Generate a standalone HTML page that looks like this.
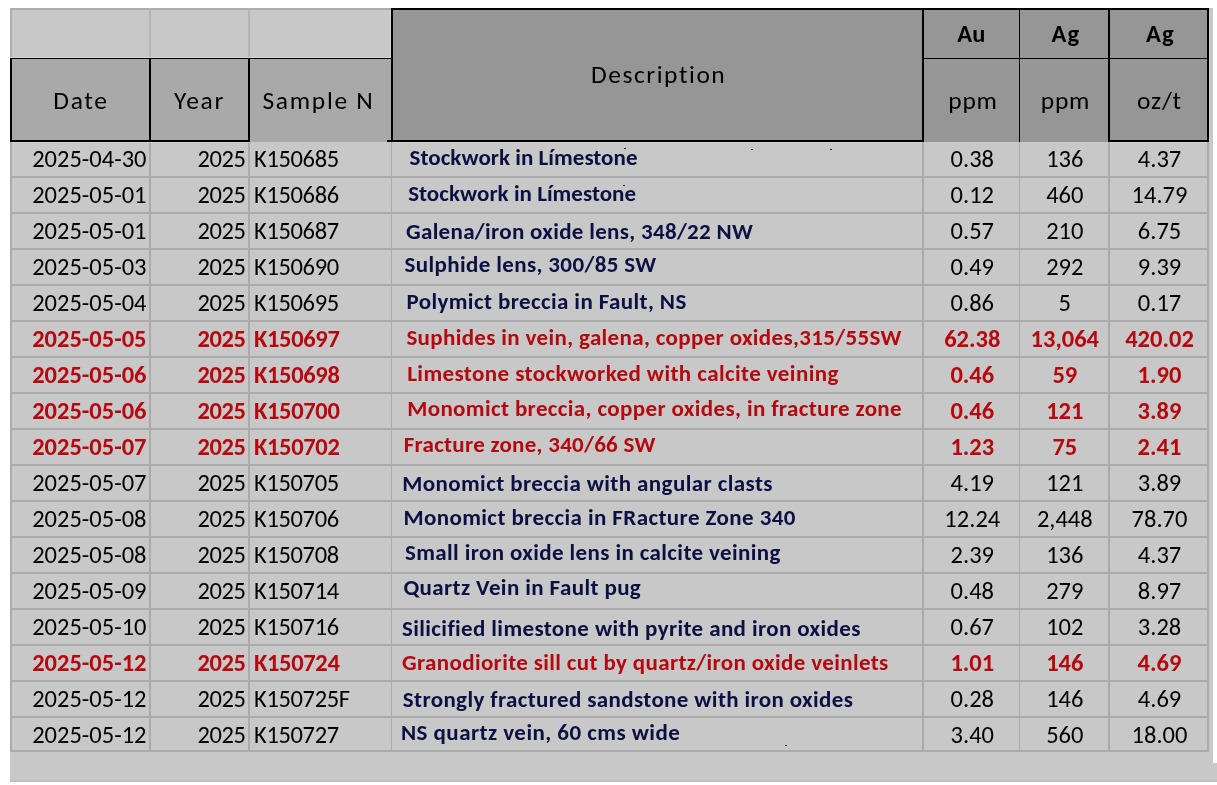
<!DOCTYPE html>
<html><head><meta charset="utf-8"><style>
html,body{margin:0;padding:0;background:#fff;}
body{width:1217px;height:785px;position:relative;overflow:hidden;font-family:"Carlito","Liberation Sans",sans-serif;}
body>div{position:absolute;}
.t{position:absolute;white-space:nowrap;line-height:1;display:block;overflow:visible;}
</style></head><body>
<div style="left:10px;top:8px;width:1203px;height:774px;background:#c8c8c8;"></div>
<div style="left:1213px;top:763px;width:4px;height:19px;background:#c8c8c8;"></div>
<div style="left:10px;top:780px;width:1207px;height:2px;background:#bfbfbf;"></div>
<div style="left:10px;top:8px;width:381px;height:2px;background:#adadad;"></div>
<div style="left:10px;top:8px;width:2px;height:50px;background:#adadad;"></div>
<div style="left:149px;top:8px;width:2px;height:50px;background:#b4b4b4;"></div>
<div style="left:248px;top:8px;width:2px;height:50px;background:#b4b4b4;"></div>
<div style="left:10px;top:176px;width:1199px;height:2px;background:#ababab;"></div>
<div style="left:10px;top:212px;width:1199px;height:2px;background:#ababab;"></div>
<div style="left:10px;top:248px;width:1199px;height:2px;background:#ababab;"></div>
<div style="left:10px;top:284px;width:1199px;height:2px;background:#ababab;"></div>
<div style="left:10px;top:320px;width:1199px;height:2px;background:#ababab;"></div>
<div style="left:10px;top:356px;width:1199px;height:2px;background:#ababab;"></div>
<div style="left:10px;top:392px;width:1199px;height:2px;background:#ababab;"></div>
<div style="left:10px;top:428px;width:1199px;height:2px;background:#ababab;"></div>
<div style="left:10px;top:464px;width:1199px;height:2px;background:#ababab;"></div>
<div style="left:10px;top:500px;width:1199px;height:2px;background:#ababab;"></div>
<div style="left:10px;top:536px;width:1199px;height:2px;background:#ababab;"></div>
<div style="left:10px;top:572px;width:1199px;height:2px;background:#ababab;"></div>
<div style="left:10px;top:608px;width:1199px;height:2px;background:#ababab;"></div>
<div style="left:10px;top:644px;width:1199px;height:2px;background:#ababab;"></div>
<div style="left:10px;top:680px;width:1199px;height:2px;background:#ababab;"></div>
<div style="left:10px;top:716px;width:1199px;height:2px;background:#ababab;"></div>
<div style="left:10px;top:750px;width:1199px;height:2px;background:#ababab;"></div>
<div style="left:10px;top:142px;width:2px;height:610px;background:#ababab;"></div>
<div style="left:149px;top:142px;width:2px;height:610px;background:#ababab;"></div>
<div style="left:248px;top:142px;width:2px;height:610px;background:#ababab;"></div>
<div style="left:391px;top:142px;width:1px;height:610px;background:#ababab;"></div>
<div style="left:922px;top:142px;width:2px;height:610px;background:#ababab;"></div>
<div style="left:1019px;top:142px;width:1px;height:610px;background:#ababab;"></div>
<div style="left:1108px;top:142px;width:2px;height:610px;background:#ababab;"></div>
<div style="left:1207px;top:142px;width:2px;height:610px;background:#ababab;"></div>
<div style="left:10px;top:58px;width:381px;height:84px;background:#a9a9a9;"></div>
<div style="left:10px;top:58px;width:381px;height:1px;background:#000;"></div>
<div style="left:10px;top:58px;width:2px;height:84px;background:#000;"></div>
<div style="left:149px;top:58px;width:2px;height:84px;background:#000;"></div>
<div style="left:248px;top:58px;width:2px;height:84px;background:#000;"></div>
<div style="left:10px;top:140px;width:240px;height:2px;background:#000;"></div>
<div style="left:391px;top:8px;width:818px;height:134px;background:#969696;"></div>
<div style="left:391px;top:8px;width:818px;height:2px;background:#000;"></div>
<div style="left:391px;top:8px;width:2px;height:134px;background:#000;"></div>
<div style="left:387px;top:140px;width:537px;height:2px;background:#000;"></div>
<div style="left:922px;top:8px;width:2px;height:134px;background:#000;"></div>
<div style="left:922px;top:58px;width:287px;height:1px;background:#000;"></div>
<div style="left:1019px;top:8px;width:1px;height:134px;background:#000;"></div>
<div style="left:1108px;top:8px;width:2px;height:134px;background:#000;"></div>
<div style="left:1207px;top:8px;width:2px;height:134px;background:#000;"></div>
<div style="left:1108px;top:140px;width:101px;height:2px;background:#000;"></div>
<div style="left:751px;top:149px;width:2px;height:1px;background:#1a1a2a;"></div>
<div style="left:830px;top:149px;width:2px;height:1px;background:#1a1a2a;"></div>
<div style="left:624px;top:148px;width:2px;height:1px;background:#1a1a3a;"></div>
<div style="left:623px;top:185px;width:2px;height:1px;background:#1a1a3a;"></div>
<div style="left:785px;top:745px;width:2px;height:1px;background:#2a2a2a;"></div>
<div style="left:10px;top:57px;width:381px;height:1px;background:#d4d4d4;"></div>
<div style="left:390px;top:10px;width:1px;height:48px;background:#d4d4d4;"></div>
<div style="left:12px;top:142px;width:237px;height:1px;background:#d2d2d2;"></div>
<div style="left:393px;top:142px;width:529px;height:1px;background:#d4d4d4;"></div>
<div style="left:1110px;top:142px;width:97px;height:1px;background:#d4d4d4;"></div>
<div style="left:1209px;top:10px;width:1px;height:131px;background:#d2d2d2;"></div>
<span class="t" style="left:12.5px;top:88.13px;width:137px;font-size:25.5px;font-weight:400;color:#000;text-align:center;letter-spacing:1.7px;">Date</span>
<span class="t" style="left:151px;top:88.13px;width:97px;font-size:25.5px;font-weight:400;color:#000;text-align:center;letter-spacing:1.7px;">Year</span>
<span class="t" style="left:248px;top:88.13px;width:141px;font-size:25.5px;font-weight:400;color:#000;text-align:center;letter-spacing:1.7px;">Sample N</span>
<span class="t" style="left:394.2px;top:61.93px;width:529px;font-size:25.5px;font-weight:400;color:#000;text-align:center;letter-spacing:1.53px;">Description</span>
<span class="t" style="left:924px;top:21.57px;width:95px;font-size:24.5px;font-weight:700;color:#000;text-align:center;letter-spacing:0.3px;">Au</span>
<span class="t" style="left:1022px;top:21.57px;width:88px;font-size:24.5px;font-weight:700;color:#000;text-align:center;letter-spacing:1.3px;">Ag</span>
<span class="t" style="left:1112px;top:21.57px;width:97px;font-size:24.5px;font-weight:700;color:#000;text-align:center;letter-spacing:1.3px;">Ag</span>
<span class="t" style="left:925.5px;top:87.73px;width:95px;font-size:25.5px;font-weight:400;color:#000;text-align:center;letter-spacing:0.8px;">ppm</span>
<span class="t" style="left:1021.5px;top:87.73px;width:88px;font-size:25.5px;font-weight:400;color:#000;text-align:center;letter-spacing:0.8px;">ppm</span>
<span class="t" style="left:1111px;top:87.73px;width:97px;font-size:25.5px;font-weight:400;color:#000;text-align:center;letter-spacing:0.8px;">oz/t</span>
<span class="t" style="left:12px;top:147.37px;width:134.5px;font-size:24.5px;font-weight:400;color:#000;text-align:right;letter-spacing:0px;">2025-04-30</span>
<span class="t" style="left:151px;top:147.37px;width:94.4px;font-size:24.5px;font-weight:400;color:#000;text-align:right;letter-spacing:-0.45px;">2025</span>
<span class="t" style="left:254px;top:147.37px;width:136px;font-size:24.5px;font-weight:400;color:#000;text-align:left;letter-spacing:-0.35px;">K150685</span>
<span class="t" style="left:924.8px;top:147.37px;width:95px;font-size:24.5px;font-weight:400;color:#000;text-align:center;letter-spacing:0px;">0.38</span>
<span class="t" style="left:1020.8px;top:147.37px;width:88px;font-size:24.5px;font-weight:400;color:#000;text-align:center;letter-spacing:0px;">136</span>
<span class="t" style="left:1111px;top:147.37px;width:97px;font-size:24.5px;font-weight:400;color:#000;text-align:center;letter-spacing:0px;">4.37</span>
<span class="t" style="left:409.6px;top:146.03px;width:515px;font-size:23px;font-weight:700;color:#0b1043;text-align:left;letter-spacing:0.033px;">Stockwork in Límestone</span>
<span class="t" style="left:12px;top:183.37px;width:134.5px;font-size:24.5px;font-weight:400;color:#000;text-align:right;letter-spacing:0px;">2025-05-01</span>
<span class="t" style="left:151px;top:183.37px;width:94.4px;font-size:24.5px;font-weight:400;color:#000;text-align:right;letter-spacing:-0.45px;">2025</span>
<span class="t" style="left:254px;top:183.37px;width:136px;font-size:24.5px;font-weight:400;color:#000;text-align:left;letter-spacing:-0.35px;">K150686</span>
<span class="t" style="left:924.8px;top:183.37px;width:95px;font-size:24.5px;font-weight:400;color:#000;text-align:center;letter-spacing:0px;">0.12</span>
<span class="t" style="left:1020.8px;top:183.37px;width:88px;font-size:24.5px;font-weight:400;color:#000;text-align:center;letter-spacing:0px;">460</span>
<span class="t" style="left:1111px;top:183.37px;width:97px;font-size:24.5px;font-weight:400;color:#000;text-align:center;letter-spacing:0px;">14.79</span>
<span class="t" style="left:408.2px;top:182.03px;width:515px;font-size:23px;font-weight:700;color:#0b1043;text-align:left;letter-spacing:0.033px;">Stockwork in Límestone</span>
<span class="t" style="left:12px;top:219.37px;width:134.5px;font-size:24.5px;font-weight:400;color:#000;text-align:right;letter-spacing:0px;">2025-05-01</span>
<span class="t" style="left:151px;top:219.37px;width:94.4px;font-size:24.5px;font-weight:400;color:#000;text-align:right;letter-spacing:-0.45px;">2025</span>
<span class="t" style="left:254px;top:219.37px;width:136px;font-size:24.5px;font-weight:400;color:#000;text-align:left;letter-spacing:-0.35px;">K150687</span>
<span class="t" style="left:924.8px;top:219.37px;width:95px;font-size:24.5px;font-weight:400;color:#000;text-align:center;letter-spacing:0px;">0.57</span>
<span class="t" style="left:1020.8px;top:219.37px;width:88px;font-size:24.5px;font-weight:400;color:#000;text-align:center;letter-spacing:0px;">210</span>
<span class="t" style="left:1111px;top:219.37px;width:97px;font-size:24.5px;font-weight:400;color:#000;text-align:center;letter-spacing:0px;">6.75</span>
<span class="t" style="left:406.0px;top:220.33px;width:515px;font-size:23px;font-weight:700;color:#0b1043;text-align:left;letter-spacing:0.316px;">Galena/iron oxide lens, 348/22 NW</span>
<span class="t" style="left:12px;top:255.37px;width:134.5px;font-size:24.5px;font-weight:400;color:#000;text-align:right;letter-spacing:0px;">2025-05-03</span>
<span class="t" style="left:151px;top:255.37px;width:94.4px;font-size:24.5px;font-weight:400;color:#000;text-align:right;letter-spacing:-0.45px;">2025</span>
<span class="t" style="left:254px;top:255.37px;width:136px;font-size:24.5px;font-weight:400;color:#000;text-align:left;letter-spacing:-0.35px;">K150690</span>
<span class="t" style="left:924.8px;top:255.37px;width:95px;font-size:24.5px;font-weight:400;color:#000;text-align:center;letter-spacing:0px;">0.49</span>
<span class="t" style="left:1020.8px;top:255.37px;width:88px;font-size:24.5px;font-weight:400;color:#000;text-align:center;letter-spacing:0px;">292</span>
<span class="t" style="left:1111px;top:255.37px;width:97px;font-size:24.5px;font-weight:400;color:#000;text-align:center;letter-spacing:0px;">9.39</span>
<span class="t" style="left:404.6px;top:253.13px;width:515px;font-size:23px;font-weight:700;color:#0b1043;text-align:left;letter-spacing:0.37px;">Sulphide lens, 300/85 SW</span>
<span class="t" style="left:12px;top:291.37px;width:134.5px;font-size:24.5px;font-weight:400;color:#000;text-align:right;letter-spacing:0px;">2025-05-04</span>
<span class="t" style="left:151px;top:291.37px;width:94.4px;font-size:24.5px;font-weight:400;color:#000;text-align:right;letter-spacing:-0.45px;">2025</span>
<span class="t" style="left:254px;top:291.37px;width:136px;font-size:24.5px;font-weight:400;color:#000;text-align:left;letter-spacing:-0.35px;">K150695</span>
<span class="t" style="left:924.8px;top:291.37px;width:95px;font-size:24.5px;font-weight:400;color:#000;text-align:center;letter-spacing:0px;">0.86</span>
<span class="t" style="left:1020.8px;top:291.37px;width:88px;font-size:24.5px;font-weight:400;color:#000;text-align:center;letter-spacing:0px;">5</span>
<span class="t" style="left:1111px;top:291.37px;width:97px;font-size:24.5px;font-weight:400;color:#000;text-align:center;letter-spacing:0px;">0.17</span>
<span class="t" style="left:406.4px;top:290.03px;width:515px;font-size:23px;font-weight:700;color:#0b1043;text-align:left;letter-spacing:0.396px;">Polymict breccia in Fault, NS</span>
<span class="t" style="left:12px;top:327.37px;width:134.5px;font-size:24.5px;font-weight:700;color:#b5090f;text-align:right;letter-spacing:0px;">2025-05-05</span>
<span class="t" style="left:151px;top:327.37px;width:94.4px;font-size:24.5px;font-weight:700;color:#b5090f;text-align:right;letter-spacing:-0.45px;">2025</span>
<span class="t" style="left:254px;top:327.37px;width:136px;font-size:24.5px;font-weight:700;color:#b5090f;text-align:left;letter-spacing:-0.35px;">K150697</span>
<span class="t" style="left:924.8px;top:327.37px;width:95px;font-size:24.5px;font-weight:700;color:#b5090f;text-align:center;letter-spacing:0px;">62.38</span>
<span class="t" style="left:1020.8px;top:327.37px;width:88px;font-size:24.5px;font-weight:700;color:#b5090f;text-align:center;letter-spacing:0px;">13,064</span>
<span class="t" style="left:1111px;top:327.37px;width:97px;font-size:24.5px;font-weight:700;color:#b5090f;text-align:center;letter-spacing:0px;">420.02</span>
<span class="t" style="left:406.4px;top:326.13px;width:515px;font-size:23px;font-weight:700;color:#b5090f;text-align:left;letter-spacing:0.347px;">Suphides in vein, galena, copper oxides,315/55SW</span>
<span class="t" style="left:12px;top:363.37px;width:134.5px;font-size:24.5px;font-weight:700;color:#b5090f;text-align:right;letter-spacing:0px;">2025-05-06</span>
<span class="t" style="left:151px;top:363.37px;width:94.4px;font-size:24.5px;font-weight:700;color:#b5090f;text-align:right;letter-spacing:-0.45px;">2025</span>
<span class="t" style="left:254px;top:363.37px;width:136px;font-size:24.5px;font-weight:700;color:#b5090f;text-align:left;letter-spacing:-0.35px;">K150698</span>
<span class="t" style="left:924.8px;top:363.37px;width:95px;font-size:24.5px;font-weight:700;color:#b5090f;text-align:center;letter-spacing:0px;">0.46</span>
<span class="t" style="left:1020.8px;top:363.37px;width:88px;font-size:24.5px;font-weight:700;color:#b5090f;text-align:center;letter-spacing:0px;">59</span>
<span class="t" style="left:1111px;top:363.37px;width:97px;font-size:24.5px;font-weight:700;color:#b5090f;text-align:center;letter-spacing:0px;">1.90</span>
<span class="t" style="left:407.2px;top:361.93px;width:515px;font-size:23px;font-weight:700;color:#b5090f;text-align:left;letter-spacing:0.415px;">Limestone stockworked with calcite veining</span>
<span class="t" style="left:12px;top:399.37px;width:134.5px;font-size:24.5px;font-weight:700;color:#b5090f;text-align:right;letter-spacing:0px;">2025-05-06</span>
<span class="t" style="left:151px;top:399.37px;width:94.4px;font-size:24.5px;font-weight:700;color:#b5090f;text-align:right;letter-spacing:-0.45px;">2025</span>
<span class="t" style="left:254px;top:399.37px;width:136px;font-size:24.5px;font-weight:700;color:#b5090f;text-align:left;letter-spacing:-0.35px;">K150700</span>
<span class="t" style="left:924.8px;top:399.37px;width:95px;font-size:24.5px;font-weight:700;color:#b5090f;text-align:center;letter-spacing:0px;">0.46</span>
<span class="t" style="left:1020.8px;top:399.37px;width:88px;font-size:24.5px;font-weight:700;color:#b5090f;text-align:center;letter-spacing:0px;">121</span>
<span class="t" style="left:1111px;top:399.37px;width:97px;font-size:24.5px;font-weight:700;color:#b5090f;text-align:center;letter-spacing:0px;">3.89</span>
<span class="t" style="left:407.2px;top:396.93px;width:515px;font-size:23px;font-weight:700;color:#b5090f;text-align:left;letter-spacing:0.373px;">Monomict breccia, copper oxides, in fracture zone</span>
<span class="t" style="left:12px;top:435.37px;width:134.5px;font-size:24.5px;font-weight:700;color:#b5090f;text-align:right;letter-spacing:0px;">2025-05-07</span>
<span class="t" style="left:151px;top:435.37px;width:94.4px;font-size:24.5px;font-weight:700;color:#b5090f;text-align:right;letter-spacing:-0.45px;">2025</span>
<span class="t" style="left:254px;top:435.37px;width:136px;font-size:24.5px;font-weight:700;color:#b5090f;text-align:left;letter-spacing:-0.35px;">K150702</span>
<span class="t" style="left:924.8px;top:435.37px;width:95px;font-size:24.5px;font-weight:700;color:#b5090f;text-align:center;letter-spacing:0px;">1.23</span>
<span class="t" style="left:1020.8px;top:435.37px;width:88px;font-size:24.5px;font-weight:700;color:#b5090f;text-align:center;letter-spacing:0px;">75</span>
<span class="t" style="left:1111px;top:435.37px;width:97px;font-size:24.5px;font-weight:700;color:#b5090f;text-align:center;letter-spacing:0px;">2.41</span>
<span class="t" style="left:403.8px;top:432.73px;width:515px;font-size:23px;font-weight:700;color:#b5090f;text-align:left;letter-spacing:0.27px;">Fracture zone, 340/66 SW</span>
<span class="t" style="left:12px;top:471.37px;width:134.5px;font-size:24.5px;font-weight:400;color:#000;text-align:right;letter-spacing:0px;">2025-05-07</span>
<span class="t" style="left:151px;top:471.37px;width:94.4px;font-size:24.5px;font-weight:400;color:#000;text-align:right;letter-spacing:-0.45px;">2025</span>
<span class="t" style="left:254px;top:471.37px;width:136px;font-size:24.5px;font-weight:400;color:#000;text-align:left;letter-spacing:-0.35px;">K150705</span>
<span class="t" style="left:924.8px;top:471.37px;width:95px;font-size:24.5px;font-weight:400;color:#000;text-align:center;letter-spacing:0px;">4.19</span>
<span class="t" style="left:1020.8px;top:471.37px;width:88px;font-size:24.5px;font-weight:400;color:#000;text-align:center;letter-spacing:0px;">121</span>
<span class="t" style="left:1111px;top:471.37px;width:97px;font-size:24.5px;font-weight:400;color:#000;text-align:center;letter-spacing:0px;">3.89</span>
<span class="t" style="left:402.2px;top:472.23px;width:515px;font-size:23px;font-weight:700;color:#0b1043;text-align:left;letter-spacing:0.409px;">Monomict breccia with angular clasts</span>
<span class="t" style="left:12px;top:507.37px;width:134.5px;font-size:24.5px;font-weight:400;color:#000;text-align:right;letter-spacing:0px;">2025-05-08</span>
<span class="t" style="left:151px;top:507.37px;width:94.4px;font-size:24.5px;font-weight:400;color:#000;text-align:right;letter-spacing:-0.45px;">2025</span>
<span class="t" style="left:254px;top:507.37px;width:136px;font-size:24.5px;font-weight:400;color:#000;text-align:left;letter-spacing:-0.35px;">K150706</span>
<span class="t" style="left:924.8px;top:507.37px;width:95px;font-size:24.5px;font-weight:400;color:#000;text-align:center;letter-spacing:0px;">12.24</span>
<span class="t" style="left:1020.8px;top:507.37px;width:88px;font-size:24.5px;font-weight:400;color:#000;text-align:center;letter-spacing:0px;">2,448</span>
<span class="t" style="left:1111px;top:507.37px;width:97px;font-size:24.5px;font-weight:400;color:#000;text-align:center;letter-spacing:0px;">78.70</span>
<span class="t" style="left:403.4px;top:506.03px;width:515px;font-size:23px;font-weight:700;color:#0b1043;text-align:left;letter-spacing:0.406px;">Monomict breccia in FRacture Zone 340</span>
<span class="t" style="left:12px;top:543.37px;width:134.5px;font-size:24.5px;font-weight:400;color:#000;text-align:right;letter-spacing:0px;">2025-05-08</span>
<span class="t" style="left:151px;top:543.37px;width:94.4px;font-size:24.5px;font-weight:400;color:#000;text-align:right;letter-spacing:-0.45px;">2025</span>
<span class="t" style="left:254px;top:543.37px;width:136px;font-size:24.5px;font-weight:400;color:#000;text-align:left;letter-spacing:-0.35px;">K150708</span>
<span class="t" style="left:924.8px;top:543.37px;width:95px;font-size:24.5px;font-weight:400;color:#000;text-align:center;letter-spacing:0px;">2.39</span>
<span class="t" style="left:1020.8px;top:543.37px;width:88px;font-size:24.5px;font-weight:400;color:#000;text-align:center;letter-spacing:0px;">136</span>
<span class="t" style="left:1111px;top:543.37px;width:97px;font-size:24.5px;font-weight:400;color:#000;text-align:center;letter-spacing:0px;">4.37</span>
<span class="t" style="left:405.0px;top:540.93px;width:515px;font-size:23px;font-weight:700;color:#0b1043;text-align:left;letter-spacing:0.379px;">Small iron oxide lens in calcite veining</span>
<span class="t" style="left:12px;top:579.37px;width:134.5px;font-size:24.5px;font-weight:400;color:#000;text-align:right;letter-spacing:0px;">2025-05-09</span>
<span class="t" style="left:151px;top:579.37px;width:94.4px;font-size:24.5px;font-weight:400;color:#000;text-align:right;letter-spacing:-0.45px;">2025</span>
<span class="t" style="left:254px;top:579.37px;width:136px;font-size:24.5px;font-weight:400;color:#000;text-align:left;letter-spacing:-0.35px;">K150714</span>
<span class="t" style="left:924.8px;top:579.37px;width:95px;font-size:24.5px;font-weight:400;color:#000;text-align:center;letter-spacing:0px;">0.48</span>
<span class="t" style="left:1020.8px;top:579.37px;width:88px;font-size:24.5px;font-weight:400;color:#000;text-align:center;letter-spacing:0px;">279</span>
<span class="t" style="left:1111px;top:579.37px;width:97px;font-size:24.5px;font-weight:400;color:#000;text-align:center;letter-spacing:0px;">8.97</span>
<span class="t" style="left:403.4px;top:576.43px;width:515px;font-size:23px;font-weight:700;color:#0b1043;text-align:left;letter-spacing:0.391px;">Quartz Vein in Fault pug</span>
<span class="t" style="left:12px;top:615.37px;width:134.5px;font-size:24.5px;font-weight:400;color:#000;text-align:right;letter-spacing:0px;">2025-05-10</span>
<span class="t" style="left:151px;top:615.37px;width:94.4px;font-size:24.5px;font-weight:400;color:#000;text-align:right;letter-spacing:-0.45px;">2025</span>
<span class="t" style="left:254px;top:615.37px;width:136px;font-size:24.5px;font-weight:400;color:#000;text-align:left;letter-spacing:-0.35px;">K150716</span>
<span class="t" style="left:924.8px;top:615.37px;width:95px;font-size:24.5px;font-weight:400;color:#000;text-align:center;letter-spacing:0px;">0.67</span>
<span class="t" style="left:1020.8px;top:615.37px;width:88px;font-size:24.5px;font-weight:400;color:#000;text-align:center;letter-spacing:0px;">102</span>
<span class="t" style="left:1111px;top:615.37px;width:97px;font-size:24.5px;font-weight:400;color:#000;text-align:center;letter-spacing:0px;">3.28</span>
<span class="t" style="left:402.0px;top:616.53px;width:515px;font-size:23px;font-weight:700;color:#0b1043;text-align:left;letter-spacing:0.381px;">Silicified limestone with pyrite and iron oxides</span>
<span class="t" style="left:12px;top:651.37px;width:134.5px;font-size:24.5px;font-weight:700;color:#b5090f;text-align:right;letter-spacing:0px;">2025-05-12</span>
<span class="t" style="left:151px;top:651.37px;width:94.4px;font-size:24.5px;font-weight:700;color:#b5090f;text-align:right;letter-spacing:-0.45px;">2025</span>
<span class="t" style="left:254px;top:651.37px;width:136px;font-size:24.5px;font-weight:700;color:#b5090f;text-align:left;letter-spacing:-0.35px;">K150724</span>
<span class="t" style="left:924.8px;top:651.37px;width:95px;font-size:24.5px;font-weight:700;color:#b5090f;text-align:center;letter-spacing:0px;">1.01</span>
<span class="t" style="left:1020.8px;top:651.37px;width:88px;font-size:24.5px;font-weight:700;color:#b5090f;text-align:center;letter-spacing:0px;">146</span>
<span class="t" style="left:1111px;top:651.37px;width:97px;font-size:24.5px;font-weight:700;color:#b5090f;text-align:center;letter-spacing:0px;">4.69</span>
<span class="t" style="left:402.0px;top:651.33px;width:515px;font-size:23px;font-weight:700;color:#b5090f;text-align:left;letter-spacing:0.36px;">Granodiorite sill cut by quartz/iron oxide veinlets</span>
<span class="t" style="left:12px;top:687.37px;width:134.5px;font-size:24.5px;font-weight:400;color:#000;text-align:right;letter-spacing:0px;">2025-05-12</span>
<span class="t" style="left:151px;top:687.37px;width:94.4px;font-size:24.5px;font-weight:400;color:#000;text-align:right;letter-spacing:-0.45px;">2025</span>
<span class="t" style="left:254px;top:687.37px;width:136px;font-size:24.5px;font-weight:400;color:#000;text-align:left;letter-spacing:-0.35px;">K150725F</span>
<span class="t" style="left:924.8px;top:687.37px;width:95px;font-size:24.5px;font-weight:400;color:#000;text-align:center;letter-spacing:0px;">0.28</span>
<span class="t" style="left:1020.8px;top:687.37px;width:88px;font-size:24.5px;font-weight:400;color:#000;text-align:center;letter-spacing:0px;">146</span>
<span class="t" style="left:1111px;top:687.37px;width:97px;font-size:24.5px;font-weight:400;color:#000;text-align:center;letter-spacing:0px;">4.69</span>
<span class="t" style="left:402.8px;top:687.83px;width:515px;font-size:23px;font-weight:700;color:#0b1043;text-align:left;letter-spacing:0.373px;">Strongly fractured sandstone with iron oxides</span>
<span class="t" style="left:12px;top:723.37px;width:134.5px;font-size:24.5px;font-weight:400;color:#000;text-align:right;letter-spacing:0px;">2025-05-12</span>
<span class="t" style="left:151px;top:723.37px;width:94.4px;font-size:24.5px;font-weight:400;color:#000;text-align:right;letter-spacing:-0.45px;">2025</span>
<span class="t" style="left:254px;top:723.37px;width:136px;font-size:24.5px;font-weight:400;color:#000;text-align:left;letter-spacing:-0.35px;">K150727</span>
<span class="t" style="left:924.8px;top:723.37px;width:95px;font-size:24.5px;font-weight:400;color:#000;text-align:center;letter-spacing:0px;">3.40</span>
<span class="t" style="left:1020.8px;top:723.37px;width:88px;font-size:24.5px;font-weight:400;color:#000;text-align:center;letter-spacing:0px;">560</span>
<span class="t" style="left:1111px;top:723.37px;width:97px;font-size:24.5px;font-weight:400;color:#000;text-align:center;letter-spacing:0px;">18.00</span>
<span class="t" style="left:401.0px;top:721.33px;width:515px;font-size:23px;font-weight:700;color:#0b1043;text-align:left;letter-spacing:0.45px;">NS quartz vein, 60 cms wide</span>
<script>
(function(){
  try {
    var probe=document.createElement('span');
    probe.style.cssText='position:absolute;left:-9999px;top:0;font-size:40px;white-space:nowrap;font-family:monospace';
    probe.textContent='mmmwwwiiilll0123456789';
    document.body.appendChild(probe);
    var w1=probe.getBoundingClientRect().width;
    probe.style.fontFamily='Carlito,monospace';
    var w2=probe.getBoundingClientRect().width;
    document.body.removeChild(probe);
    if (Math.abs(w1-w2)>0.5) return; /* Carlito available: layout already exact */
    var W=[55.4, 51.2, 112.1, 135.2, 28.6, 29.1, 29.1, 49.6, 49.6, 44.8, 114.3, 47.9, 84.8, 43.4, 37.3, 43.4, 227.9, 114.3, 47.9, 84.8, 43.4, 37.3, 55.9, 227.9, 114.3, 47.9, 84.8, 43.4, 37.3, 43.4, 347.2, 114.3, 47.9, 84.8, 43.4, 37.3, 43.4, 252, 114.3, 47.9, 84.8, 43.4, 12.4, 43.4, 280.3, 114.3, 47.9, 85.5, 56.2, 68.4, 68.6, 495.4, 114.3, 47.9, 85.5, 43.8, 24.8, 43.8, 431.6, 114.3, 47.9, 85.5, 43.8, 37.3, 43.8, 494.9, 114.3, 47.9, 85.5, 43.8, 24.8, 43.8, 251.8, 114.3, 47.9, 84.8, 43.4, 37.3, 43.4, 370.7, 114.3, 47.9, 84.8, 55.9, 55.8, 55.9, 392.5, 114.3, 47.9, 84.8, 43.4, 37.3, 43.4, 375.8, 114.3, 47.9, 84.8, 43.4, 37.3, 43.4, 237.8, 114.3, 47.9, 84.8, 43.4, 37.3, 43.4, 458.8, 114.3, 47.9, 85.5, 43.8, 37.3, 43.8, 486.5, 114.3, 47.9, 95.7, 43.4, 37.3, 43.4, 450.5, 114.3, 47.9, 84.8, 43.4, 37.3, 55.9, 279.2];
    var els=document.querySelectorAll('.t');
    for (var i=0;i<els.length && i<W.length;i++) {
      var el=els[i], r=document.createRange(); r.selectNodeContents(el);
      var w=r.getBoundingClientRect().width; if(!w) continue;
      var k=W[i]/w; if (k>0.98) continue;
      var a=el.style.textAlign||'left';
      var ox=a==='right'?'100%':(a==='center'?'50%':'0');
      el.style.transformOrigin=ox+' 0.84em';
      el.style.transform='scale('+k.toFixed(4)+')';
    }
  } catch(e) {}
})();
</script>
</body></html>
